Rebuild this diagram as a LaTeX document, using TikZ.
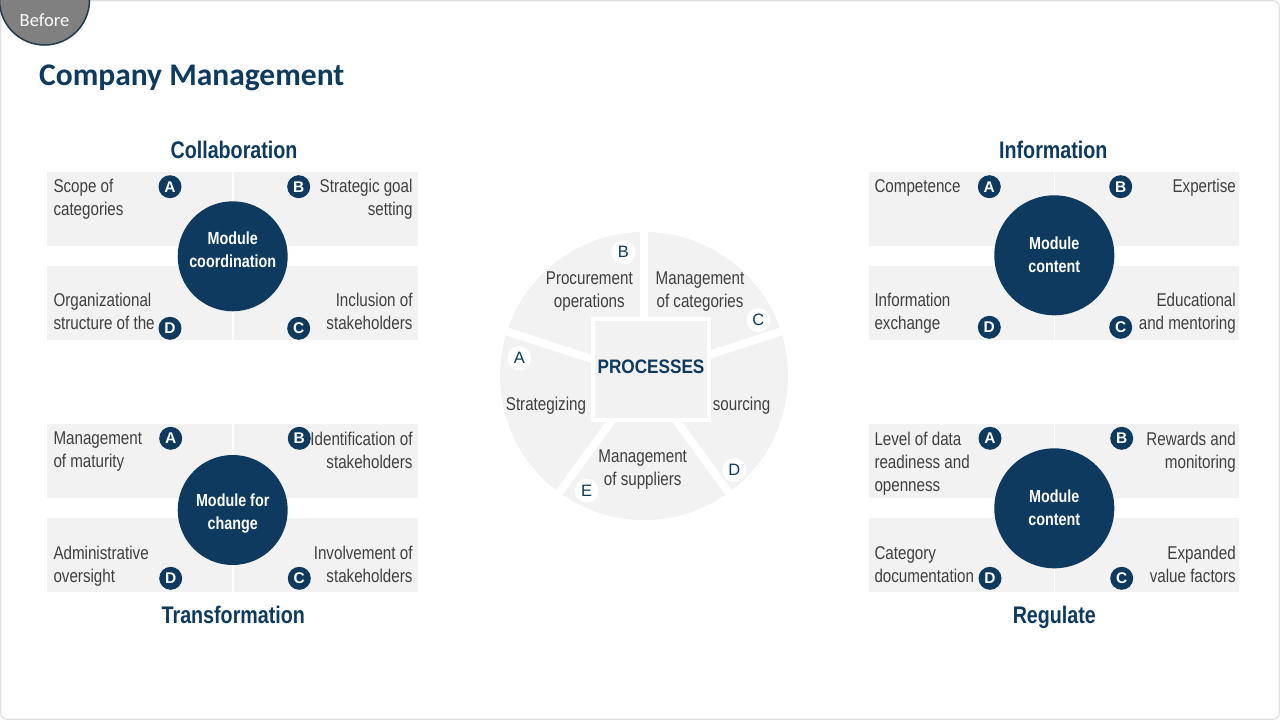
\documentclass[tikz,border=0pt]{standalone}
\usepackage{fontspec}
\setmainfont{Liberation Sans}[FakeStretch=0.82]
\newfontfamily\titlefont{Carlito}
\newfontfamily\procfont{Liberation Sans}[FakeStretch=0.88]
\newfontfamily\badgefont{Liberation Sans}
\definecolor{navy}{HTML}{0D3A5E}
\definecolor{panel}{HTML}{F2F2F2}
\definecolor{txt}{HTML}{404040}
\definecolor{beforegray}{HTML}{808080}
\definecolor{beforeedge}{HTML}{1F3A4F}
\tikzset{
  panelfill/.style={fill=panel},
  modcircle/.style={circle, fill=navy, draw=none, minimum size=#1, inner sep=0pt},
  modtext/.style={anchor=north, inner sep=0pt, align=center, text=white, font=\fontsize{17.5}{23}\selectfont\bfseries},
  badge/.style={circle, fill=navy, minimum size=23pt, inner sep=0pt, text=white, font=\badgefont\fontsize{15.5}{15.5}\selectfont\bfseries},
  wbadge/.style={circle, fill=white, minimum size=24pt, inner sep=0pt, text=navy, font=\badgefont\fontsize{16.5}{16.5}\selectfont},
  bodyL/.style={anchor=north west, inner sep=0pt, align=left, text=txt, font=\fontsize{18.5}{23}\selectfont},
  bodyR/.style={anchor=north east, inner sep=0pt, align=right, text=txt, font=\fontsize{18.5}{23}\selectfont},
  bodyC/.style={anchor=north, inner sep=0pt, align=center, text=txt, font=\fontsize{18.5}{23}\selectfont},
  heading/.style={anchor=base, inner sep=0pt, text=navy, font=\fontsize{24}{26}\selectfont\bfseries},
  gap/.style={white, line width=8pt},
}
\begin{document}
\begin{tikzpicture}[x=1pt,y=-1pt]
\useasboundingbox (0,0) rectangle (1280,720);
\clip (0,0) rectangle (1280,720);
\fill[white] (0,0) rectangle (1280,720);
\draw[black!12, line width=1.2pt, rounded corners=6pt] (0.8,0.8) rectangle (1279.2,719.2);

% Before badge
\node[circle, fill=beforegray, draw=beforeedge, line width=1.5pt, minimum size=90pt, inner sep=0pt] (beforebadge) at (44.5,0) {};
\node[text=white, inner sep=0pt, font=\titlefont\fontsize{18.5}{18.5}\selectfont] (beforetext) at (44.5,20) {Before};

% Title
\node[anchor=base west, inner sep=0pt, text=navy, font=\titlefont\bfseries\fontsize{31.5}{31.5}\selectfont] (title) at (39,85) {Company Management};

% ===== Collaboration =====
\node[heading] (collabhead) at (234,158.5) {Collaboration};
\fill[panelfill] (47.3,171.7) rectangle (232.2,246);
\fill[panelfill] (233.6,171.7) rectangle (417.7,246);
\fill[panelfill] (47.3,265.7) rectangle (232.2,340);
\fill[panelfill] (233.6,265.7) rectangle (417.7,340);
\node[modcircle=110pt] (collabcircle) at (232.7,256.3) {};
\node[modtext] (collabmod) at (232.7,231.7) {Module\\coordination};
\node[bodyL] (collabA) at (53.3,179) {Scope of\\categories};
\node[bodyR] (collabB) at (412.7,179) {Strategic goal\\setting};
\node[bodyL] (collabD) at (53.3,293) {Organizational\\structure of the};
\node[bodyR] (collabC) at (412.7,293) {Inclusion of\\stakeholders};
\node[badge] (collabbA) at (170,186.7) {A};
\node[badge] (collabbB) at (298.7,186.7) {B};
\node[badge] (collabbD) at (170,328.3) {D};
\node[badge] (collabbC) at (298.7,328.3) {C};

% ===== Transformation =====
\fill[panelfill] (47.3,424.3) rectangle (232.2,498.3);
\fill[panelfill] (233.6,424.3) rectangle (417.7,498.3);
\fill[panelfill] (47.3,517.7) rectangle (232.2,592.3);
\fill[panelfill] (233.6,517.7) rectangle (417.7,592.3);
\node[modcircle=110pt] (transcircle) at (232.7,510) {};
\node[modtext] (transmod) at (232.7,494) {Module for\\change};
\node[bodyL] (transA) at (53.3,432) {Management\\of maturity};
\node[bodyR] (transB) at (412.7,432) {Identification of\\stakeholders};
\node[bodyL] (transD) at (53.3,546) {Administrative\\oversight};
\node[bodyR] (transC) at (412.7,546) {Involvement of\\stakeholders};
\node[badge] (transbA) at (170.7,438.3) {A};
\node[badge] (transbB) at (299.3,438.3) {B};
\node[badge] (transbD) at (170.7,578.3) {D};
\node[badge] (transbC) at (299.3,578.3) {C};
\node[heading] (transhead) at (233.3,623.5) {Transformation};

% ===== Information =====
\node[heading] (infohead) at (1053.3,158.5) {Information};
\fill[panelfill] (869,171.7) rectangle (1054,246);
\fill[panelfill] (1055.4,171.7) rectangle (1239.3,246);
\fill[panelfill] (869,265.7) rectangle (1054,340);
\fill[panelfill] (1055.4,265.7) rectangle (1239.3,340);
\node[modcircle=120pt] (infocircle) at (1054.3,255.3) {};
\node[modtext] (infomod) at (1054.3,236.7) {Module\\content};
\node[bodyL] (infoA) at (874.3,179) {Competence};
\node[bodyR] (infoB) at (1236,179) {Expertise};
\node[bodyL] (infoD) at (874.3,293) {Information\\exchange};
\node[bodyR] (infoC) at (1236,293) {Educational\\and mentoring};
\node[badge] (infobA) at (989.3,186.7) {A};
\node[badge] (infobB) at (1120.7,186.7) {B};
\node[badge] (infobD) at (989.3,327.3) {D};
\node[badge] (infobC) at (1120.7,327.3) {C};

% ===== Regulate =====
\fill[panelfill] (869,424.3) rectangle (1054,498.3);
\fill[panelfill] (1055.4,424.3) rectangle (1239.3,498.3);
\fill[panelfill] (869,517.7) rectangle (1054,592.3);
\fill[panelfill] (1055.4,517.7) rectangle (1239.3,592.3);
\node[modcircle=120pt] (regcircle) at (1054.3,508.3) {};
\node[modtext] (regmod) at (1054.3,490) {Module\\content};
\node[bodyL] (regA) at (874.3,432) {Level of data\\readiness and\\openness};
\node[bodyR] (regB) at (1236,432) {Rewards and\\monitoring};
\node[bodyL] (regD) at (874.3,546) {Category\\documentation};
\node[bodyR] (regC) at (1236,546) {Expanded\\value factors};
\node[badge] (regbA) at (990,438.3) {A};
\node[badge] (regbB) at (1121.7,438.3) {B};
\node[badge] (regbD) at (990,578.3) {D};
\node[badge] (regbC) at (1121.7,578.3) {C};
\node[heading] (reghead) at (1054.3,623.5) {Regulate};

% ===== Processes pie =====
\coordinate (piec) at (644,376);
\fill[panel] (piec) circle[radius=144];
\coordinate (g1) at (644,226);
\coordinate (g2) at (786.7,329.6);
\coordinate (g3) at (732.2,497.4);
\coordinate (g4) at (555.8,497.4);
\coordinate (g5) at (501.3,329.6);
\draw[gap] (piec) -- (g1);
\draw[gap] (piec) -- (g2);
\draw[gap] (piec) -- (g3);
\draw[gap] (piec) -- (g4);
\draw[gap] (piec) -- (g5);
\node[draw=white, line width=4pt, fill=panel, minimum width=115.7pt, minimum height=100.7pt, inner sep=0pt] (procbox) at (651.2,369.7) {};
\node[inner sep=0pt, text=navy, font=\procfont\fontsize{19.5}{19.5}\selectfont\bfseries] (proctext) at (651,366.7) {PROCESSES};
\node[bodyC] (pieB) at (589.3,271.7) {Procurement\\operations};
\node[bodyC] (pieC) at (700,271.7) {Management\\of categories};
\node[bodyL] (pieA) at (505.7,396.7) {Strategizing};
\node[anchor=base west, inner sep=0pt, text=txt, font=\fontsize{18.5}{23}\selectfont] (pieD) at (712.7,410) {sourcing};
\node[bodyC] (pieE) at (642.7,450) {Management\\of suppliers};
\node[wbadge] (piebB) at (623.3,252.3) {B};
\node[wbadge] (piebC) at (758.3,320) {C};
\node[wbadge] (piebA) at (519.3,358.3) {A};
\node[wbadge] (piebD) at (734.3,470) {D};
\node[wbadge] (piebE) at (586.7,490.7) {E};
\end{tikzpicture}
\end{document}
